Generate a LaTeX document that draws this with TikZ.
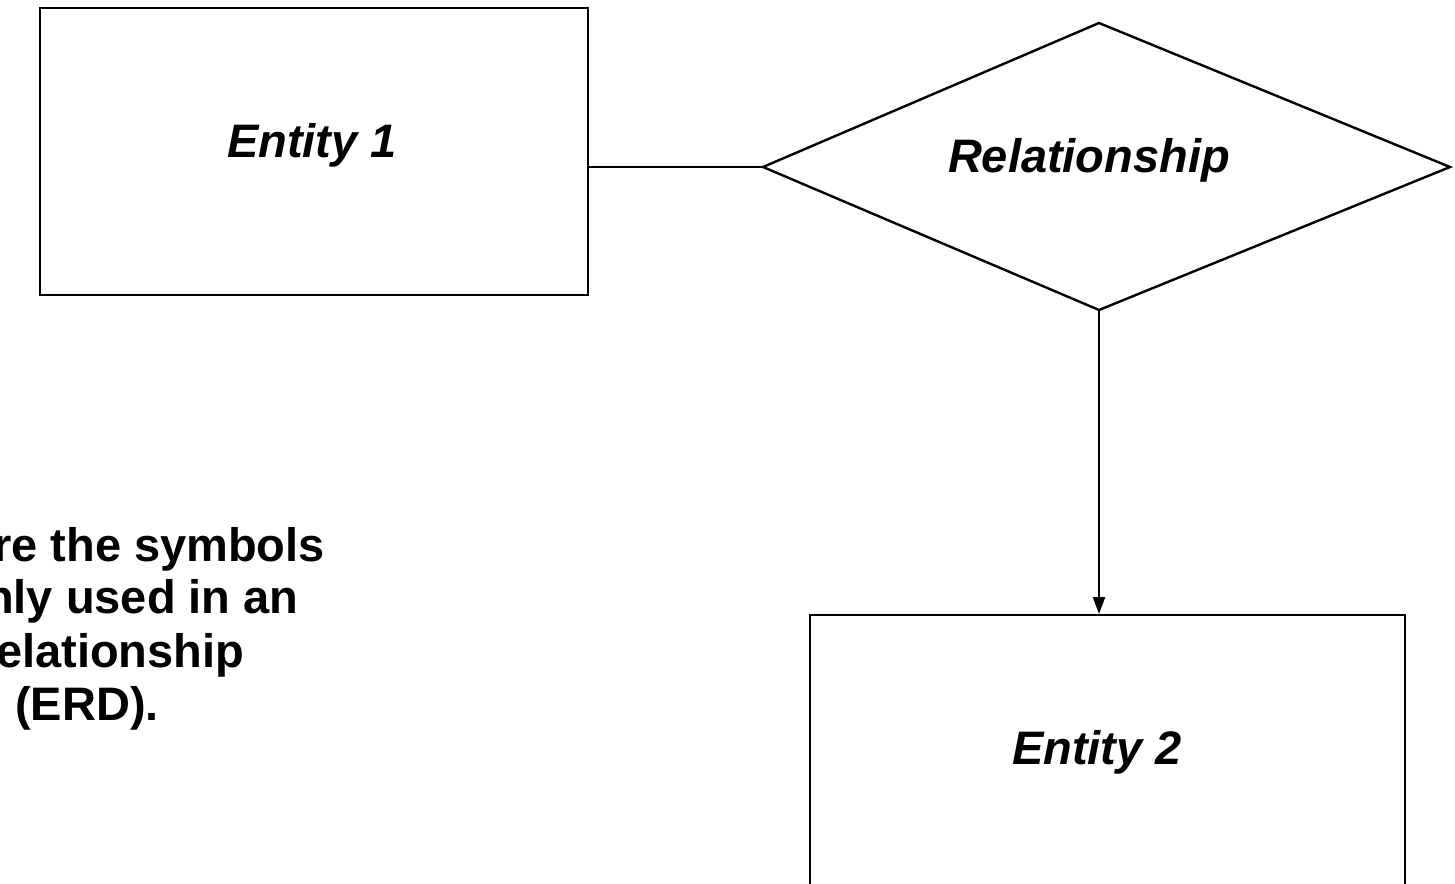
\documentclass[tikz,border=0pt]{standalone}
\usepackage{fontspec}
\setmainfont{Liberation Sans}
\usetikzlibrary{arrows.meta}
\begin{document}
\begin{tikzpicture}[x=1pt,y=-1pt,
  shapeline/.style={line width=2.4pt, draw=black},
  label/.style={font=\fontsize{47}{52}\selectfont\bfseries\itshape, inner sep=0pt},
  note/.style={font=\fontsize{47}{52}\selectfont\bfseries, inner sep=0pt, anchor=base west}]
\useasboundingbox (0,0) rectangle (1455,883);
\clip (0,0) rectangle (1455,883);
\fill[white] (0,0) rectangle (1455,883);
% Entity 1
\node[shapeline, rectangle, minimum width=548pt, minimum height=287pt, anchor=north west, inner sep=0pt] (e1) at (39,7) {};
\node[label] (e1t) at (312,145) {Entity 1};
% Relationship diamond
\coordinate (rl) at (763,167);
\coordinate (rt) at (1099,23);
\coordinate (rr) at (1450,167);
\coordinate (rb) at (1099,310);
\draw[shapeline, line join=miter] (rl) -- (rt) -- (rr) -- (rb) -- cycle;
\node[label] (rtxt) at (1089,160) {Relationship};
% Entity 2
\node[shapeline, rectangle, minimum width=595pt, minimum height=400pt, anchor=north west, inner sep=0pt] (e2) at (809,614) {};
\node[label] (e2t) at (1097,752) {Entity 2};
% connectors
\draw[shapeline] (e1.east |- rl) -- (rl);
\draw[shapeline, -{Triangle[width=12pt,length=17pt]}] (rb) -- (rb |- e2.north);
% note text (clipped at the left edge)
\node[note] (n1) at (-7,561) {re the symbols};
\node[note] (n2) at (-15,613) {nly used in an};
\node[note] (n3) at (-4,667) {elationship};
\node[note] (n4) at (15,720) {(ERD).};
\end{tikzpicture}
\end{document}
